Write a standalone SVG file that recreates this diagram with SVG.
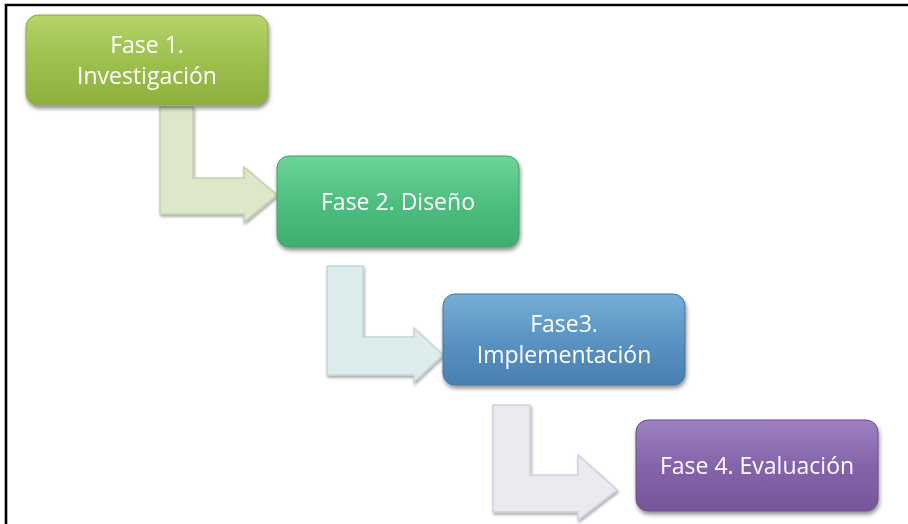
<svg xmlns="http://www.w3.org/2000/svg" width="908" height="524" viewBox="0 0 908 524">
<defs>
<linearGradient id="g1" x1="0" y1="0" x2="0" y2="1"><stop offset="0" stop-color="#b5d46a"/><stop offset="0.5" stop-color="#9ec04e"/><stop offset="1" stop-color="#8eb03e"/></linearGradient>
<linearGradient id="g2" x1="0" y1="0" x2="0" y2="1"><stop offset="0" stop-color="#6dd49a"/><stop offset="0.5" stop-color="#4fbf80"/><stop offset="1" stop-color="#3fae70"/></linearGradient>
<linearGradient id="g3" x1="0" y1="0" x2="0" y2="1"><stop offset="0" stop-color="#77aed6"/><stop offset="0.5" stop-color="#5a93c2"/><stop offset="1" stop-color="#4a7fb0"/></linearGradient>
<linearGradient id="g4" x1="0" y1="0" x2="0" y2="1"><stop offset="0" stop-color="#9e80c2"/><stop offset="0.5" stop-color="#8564aa"/><stop offset="1" stop-color="#765599"/></linearGradient>
<filter id="sh" x="-10%" y="-10%" width="120%" height="130%"><feGaussianBlur in="SourceAlpha" stdDeviation="2"/><feOffset dx="1" dy="3"/><feComponentTransfer><feFuncA type="linear" slope="0.45"/></feComponentTransfer><feMerge><feMergeNode/><feMergeNode in="SourceGraphic"/></feMerge></filter>
<filter id="sa" x="-10%" y="-10%" width="130%" height="130%"><feGaussianBlur in="SourceAlpha" stdDeviation="1.5"/><feOffset dx="1" dy="2"/><feComponentTransfer><feFuncA type="linear" slope="0.35"/></feComponentTransfer><feMerge><feMergeNode/><feMergeNode in="SourceGraphic"/></feMerge></filter>
</defs>
<style>
.t{font-family:"Open Sans","Liberation Sans",sans-serif;font-size:23px;fill:#ffffff;text-anchor:middle}
.ar{stroke-width:1.5;stroke-linejoin:miter}
</style>
<rect x="0" y="0" width="908" height="524" fill="#ffffff"/>
<path d="M6 524 V5 H908" fill="none" stroke="#000" stroke-width="2.6"/>
<g id="connectors">
<path class="ar" filter="url(#sa)" d="M160 107 H193 V178 H244 V167 L277 195 L244 222 V214 H160 Z" fill="#dde7c9" stroke="#c4d1a8"/>
<path class="ar" filter="url(#sa)" d="M327 266 H363 V337 H414 V328 L443 355 L414 382 V375 H327 Z" fill="#ddeded" stroke="#c2d6d6"/>
<path class="ar" filter="url(#sa)" d="M493 405 H530 V475 H578 V455 L617 490 L578 520 V512 H493 Z" fill="#ebeaf1" stroke="#d2d0dd"/>
</g>
<g id="node1" filter="url(#sh)"><rect x="26" y="15" width="242" height="90" rx="12" fill="url(#g1)" stroke="#8ba94a" stroke-width="1"/><text class="t" x="147" y="53">Fase 1.</text><text class="t" x="147" y="84">Investigación</text></g>
<g id="node2" filter="url(#sh)"><rect x="277" y="156" width="242" height="91" rx="12" fill="url(#g2)" stroke="#3fa26a" stroke-width="1"/><text class="t" x="398" y="210">Fase 2. Diseño</text></g>
<g id="node3" filter="url(#sh)"><rect x="443" y="294" width="242" height="91" rx="12" fill="url(#g3)" stroke="#43729e" stroke-width="1"/><text class="t" x="564" y="332">Fase3.</text><text class="t" x="564" y="363">Implementación</text></g>
<g id="node4" filter="url(#sh)"><rect x="636" y="420" width="242" height="91" rx="12" fill="url(#g4)" stroke="#6a4c8c" stroke-width="1"/><text class="t" x="757" y="474">Fase 4. Evaluación</text></g>
</svg>
